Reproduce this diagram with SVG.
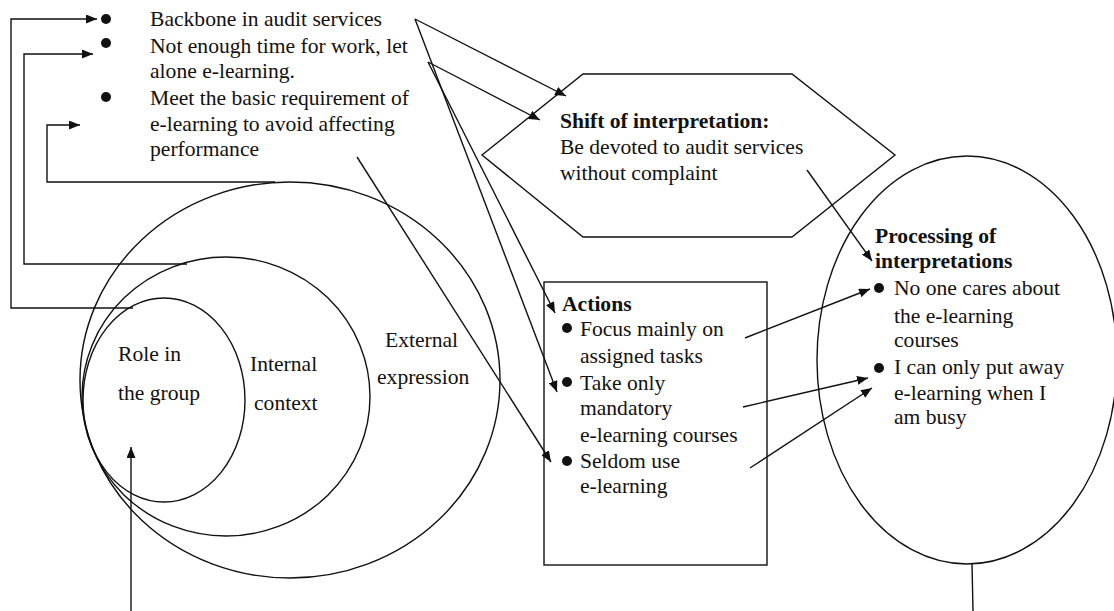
<svg xmlns="http://www.w3.org/2000/svg" width="1114" height="611" viewBox="0 0 1114 611">
  <style>
    .ln { fill: none; stroke: #111; stroke-width: 1.4; }
    .arr { fill: none; stroke: #111; stroke-width: 1.4; marker-end: url(#tip); }
    .shape { fill: none; stroke: #111; stroke-width: 1.4; }
    .dot { fill: #111; }
    text { font-family: "Liberation Serif", "Times New Roman", serif; font-size: 20px; fill: #111; }
    .b { font-weight: bold; }
  </style>
  <defs>
    <marker id="tip" markerUnits="userSpaceOnUse" markerWidth="11" markerHeight="9" refX="11" refY="4.5" orient="auto">
      <path d="M0,0 L11,4.5 L0,9 z" fill="#111"/>
    </marker>
  </defs>
  <rect width="1114" height="611" fill="#fff"/>

  <!-- nested context ellipses -->
  <g id="external-expression">
    <ellipse class="shape" cx="290" cy="380" rx="210" ry="198"/>
  </g>
  <g id="internal-context">
    <ellipse class="shape" cx="226" cy="396.5" rx="144" ry="139.5"/>
  </g>
  <g id="role-in-group">
    <ellipse class="shape" cx="164" cy="400" rx="81" ry="102"/>
  </g>

  <!-- hexagon: shift of interpretation -->
  <g id="shift">
    <polygon class="shape" points="482,155 583,74 792,74 895,155 792,237 583,237"/>
  </g>

  <!-- actions box -->
  <g id="actions">
    <rect class="shape" x="544" y="282" width="223" height="283"/>
    <circle class="dot" cx="567" cy="328" r="5"/>
    <circle class="dot" cx="567" cy="382" r="5"/>
    <circle class="dot" cx="567" cy="461" r="5"/>
  </g>

  <!-- processing ellipse -->
  <g id="processing">
    <ellipse class="shape" cx="967" cy="360" rx="150" ry="204"/>
    <circle class="dot" cx="879" cy="288" r="5"/>
    <circle class="dot" cx="879" cy="368" r="5"/>
  </g>

  <!-- bullet list at top left -->
  <g id="bullets">
    <circle class="dot" cx="106" cy="19" r="5"/>
    <circle class="dot" cx="106" cy="43" r="5"/>
    <circle class="dot" cx="106" cy="97" r="5"/>
  </g>

  <g id="connectors">
    <!-- feedback loops from the ellipses to the bullet list -->
    <polyline class="arr" points="133,308 11,308 11,19 97,19"/>
    <polyline class="arr" points="187,264 24,264 24,54 93,54"/>
    <polyline class="arr" points="275,182 47,182 47,125 80,125"/>
    <!-- bullets to hexagon -->
    <line class="arr" x1="415" y1="19" x2="566" y2="96"/>
    <line class="arr" x1="428" y1="62" x2="540" y2="120"/>
    <!-- bullets to actions -->
    <line class="arr" x1="415" y1="19" x2="557" y2="392"/>
    <line class="arr" x1="428" y1="62" x2="555" y2="313"/>
    <line class="arr" x1="357" y1="157" x2="551" y2="462"/>
    <!-- hexagon to processing -->
    <line class="arr" x1="807" y1="170" x2="872" y2="261"/>
    <!-- actions to processing -->
    <line class="arr" x1="745" y1="338" x2="870" y2="289"/>
    <line class="arr" x1="743" y1="407" x2="868" y2="378"/>
    <line class="arr" x1="750" y1="468" x2="872" y2="388"/>
    <!-- bottom stems -->
    <line class="arr" x1="131" y1="611" x2="131" y2="447"/>
    <line class="ln" x1="972" y1="564" x2="973" y2="611"/>
  </g>

  <!-- all labels, set slightly wide -->
  <g id="labels" transform="scale(1.08,1)">
    <text x="138.9" y="26">Backbone in audit services</text>
    <text x="138.9" y="53">Not enough time for work, let</text>
    <text x="138.9" y="78">alone e-learning.</text>
    <text x="138.9" y="105">Meet the basic requirement of</text>
    <text x="138.9" y="131">e-learning to avoid affecting</text>
    <text x="138.9" y="156">performance</text>

    <text class="b" x="518.5" y="128">Shift of interpretation:</text>
    <text x="518.5" y="154">Be devoted to audit services</text>
    <text x="518.5" y="180">without complaint</text>

    <text x="109.3" y="361">Role in</text>
    <text x="109.3" y="400">the group</text>
    <text x="231.5" y="371">Internal</text>
    <text x="235.2" y="410">context</text>
    <text x="356.5" y="347">External</text>
    <text x="349.1" y="384">expression</text>

    <text class="b" x="520.4" y="311">Actions</text>
    <text x="537" y="336">Focus mainly on</text>
    <text x="537" y="363">assigned tasks</text>
    <text x="537" y="390">Take only</text>
    <text x="537" y="415">mandatory</text>
    <text x="537" y="442">e-learning courses</text>
    <text x="537" y="468">Seldom use</text>
    <text x="537" y="493">e-learning</text>

    <text class="b" x="810.2" y="243">Processing of</text>
    <text class="b" x="810.2" y="268">interpretations</text>
    <text x="827.8" y="295">No one cares about</text>
    <text x="827.8" y="323">the e-learning</text>
    <text x="827.8" y="347">courses</text>
    <text x="827.8" y="374">I can only put away</text>
    <text x="827.8" y="400">e-learning when I</text>
    <text x="827.8" y="424">am busy</text>
  </g>
</svg>
